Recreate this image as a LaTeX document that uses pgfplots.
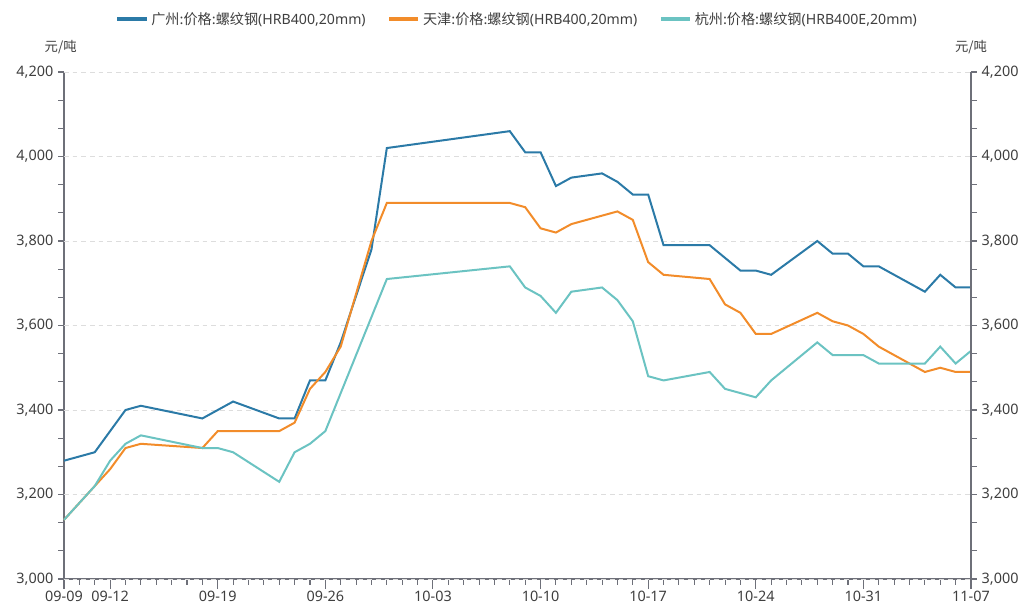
\documentclass[border=0pt]{standalone}
\usepackage{fontspec}
\setmainfont{Noto Sans}
\newfontfamily\cjk{Noto Sans CJK SC}
\usepackage{pgfplots}
\pgfplotsset{compat=1.18}

\definecolor{cgz}{HTML}{2B7AA7}
\definecolor{ctj}{HTML}{F28C2A}
\definecolor{chz}{HTML}{6BC3C2}
\definecolor{axisgray}{HTML}{6E7079}
\definecolor{labelgray}{HTML}{3F3F3F}
\definecolor{gridgray}{HTML}{DDDDDD}

% day index: 0 = 09-09
\pgfplotstableread{
d  v
0  3280
2  3300
4  3400
5  3410
9  3380
11 3420
14 3380
15 3380
16 3470
17 3470
18 3560
20 3780
21 4020
29 4060
30 4010
31 4010
32 3930
33 3950
35 3960
36 3940
37 3910
38 3910
39 3790
42 3790
44 3730
45 3730
46 3720
49 3800
50 3770
51 3770
52 3740
53 3740
56 3680
57 3720
58 3690
59 3690
}\gz

\pgfplotstableread{
d  v
0  3140
2  3220
3  3260
4  3310
5  3320
9  3310
10 3350
11 3350
14 3350
15 3370
16 3450
17 3490
18 3550
20 3800
21 3890
29 3890
30 3880
31 3830
32 3820
33 3840
36 3870
37 3850
38 3750
39 3720
42 3710
43 3650
44 3630
45 3580
46 3580
49 3630
50 3610
51 3600
52 3580
53 3550
56 3490
57 3500
58 3490
59 3490
}\tj

\pgfplotstableread{
d  v
0  3140
2  3220
3  3280
4  3320
5  3340
9  3310
10 3310
11 3300
14 3230
15 3300
16 3320
17 3350
18 3440
20 3620
21 3710
29 3740
30 3690
31 3670
32 3630
33 3680
35 3690
36 3660
37 3610
38 3480
39 3470
42 3490
43 3450
45 3430
46 3470
49 3560
50 3530
51 3530
52 3530
53 3510
56 3510
57 3550
58 3510
59 3540
}\hz

\pgfplotsset{
  common/.style={
    at={(48pt,21pt)}, anchor=south west,
    scale only axis, width=680.25pt, height=380.25pt,
    xmin=0, xmax=59, ymin=3000, ymax=4200,
    clip=false,
    ytick={3000,3200,...,4200},
    minor ytick={3066.667,3133.333,3266.667,3333.333,3466.667,3533.333,3666.667,3733.333,3866.667,3933.333,4066.667,4133.333},
    tick align=outside,
    major tick length=7.5pt, minor tick length=4.2pt,
    major y tick style={draw=none},
    axis line style={axisgray, line width=0.8pt},
    tick style={axisgray, line width=0.8pt},
    ticklabel style={font=\fontsize{10.8}{12}\selectfont, text=labelgray},
    /pgf/number format/assume math mode=true,
    /pgf/number format/1000 sep={,},
    extra y ticks={3000,3200,...,4200},
    extra y tick labels={},
    extra y tick style={major tick length=4.2pt, major y tick style={draw=axisgray}},
  },
}

\begin{document}
\begin{tikzpicture}
\useasboundingbox (0,0) rectangle (767.25pt,455.25pt);
\begin{axis}[
  common,
  axis x line*=bottom, axis y line*=left,
  yticklabel style={xshift=3pt},
  xtick={0,3,10,17,24,31,38,45,52,59},
  xticklabels={09-09,09-12,09-19,09-26,10-03,10-10,10-17,10-24,10-31,11-07},
  minor xtick={0,...,59},
  xticklabel style={yshift=2pt},
  ymajorgrids=true,
  major grid style={gridgray, dash pattern=on 3.5pt off 3pt, line width=0.6pt},
  legend style={at={(0.5,1.104)}, anchor=center, draw=none, fill=none,
    legend columns=3, font=\fontsize{10.6}{12}\selectfont, text=labelgray,
    /tikz/every even column/.append style={column sep=14pt}},
  legend cell align=left,
  legend image code/.code={\draw[#1, line width=3pt] (0pt,0pt) -- (22pt,0pt);},
]
\addplot[cgz, line width=1.5pt] table[x=d, y=v] {\gz};
\addlegendentry{{\cjk 广州:价格:螺纹钢}(HRB400,20mm)}
\addplot[ctj, line width=1.5pt] table[x=d, y=v] {\tj};
\addlegendentry{{\cjk 天津:价格:螺纹钢}(HRB400,20mm)}
\addplot[chz, line width=1.5pt] table[x=d, y=v] {\hz};
\addlegendentry{{\cjk 杭州:价格:螺纹钢}(HRB400E,20mm)}
\node[font=\cjk\fontsize{10}{12}\selectfont, text=labelgray, anchor=center]
  at (rel axis cs:0,1) [xshift=-2.5pt, yshift=18.75pt] {元/吨};
\node[font=\cjk\fontsize{10}{12}\selectfont, text=labelgray, anchor=center]
  at (rel axis cs:1,1) [yshift=18.75pt] {元/吨};
\end{axis}
\begin{axis}[
  common,
  axis x line=none, axis y line*=right,
  yticklabel style={xshift=-3pt},
]
\addplot[draw=none] coordinates {(0,3000)};
\end{axis}
\end{tikzpicture}
\end{document}
